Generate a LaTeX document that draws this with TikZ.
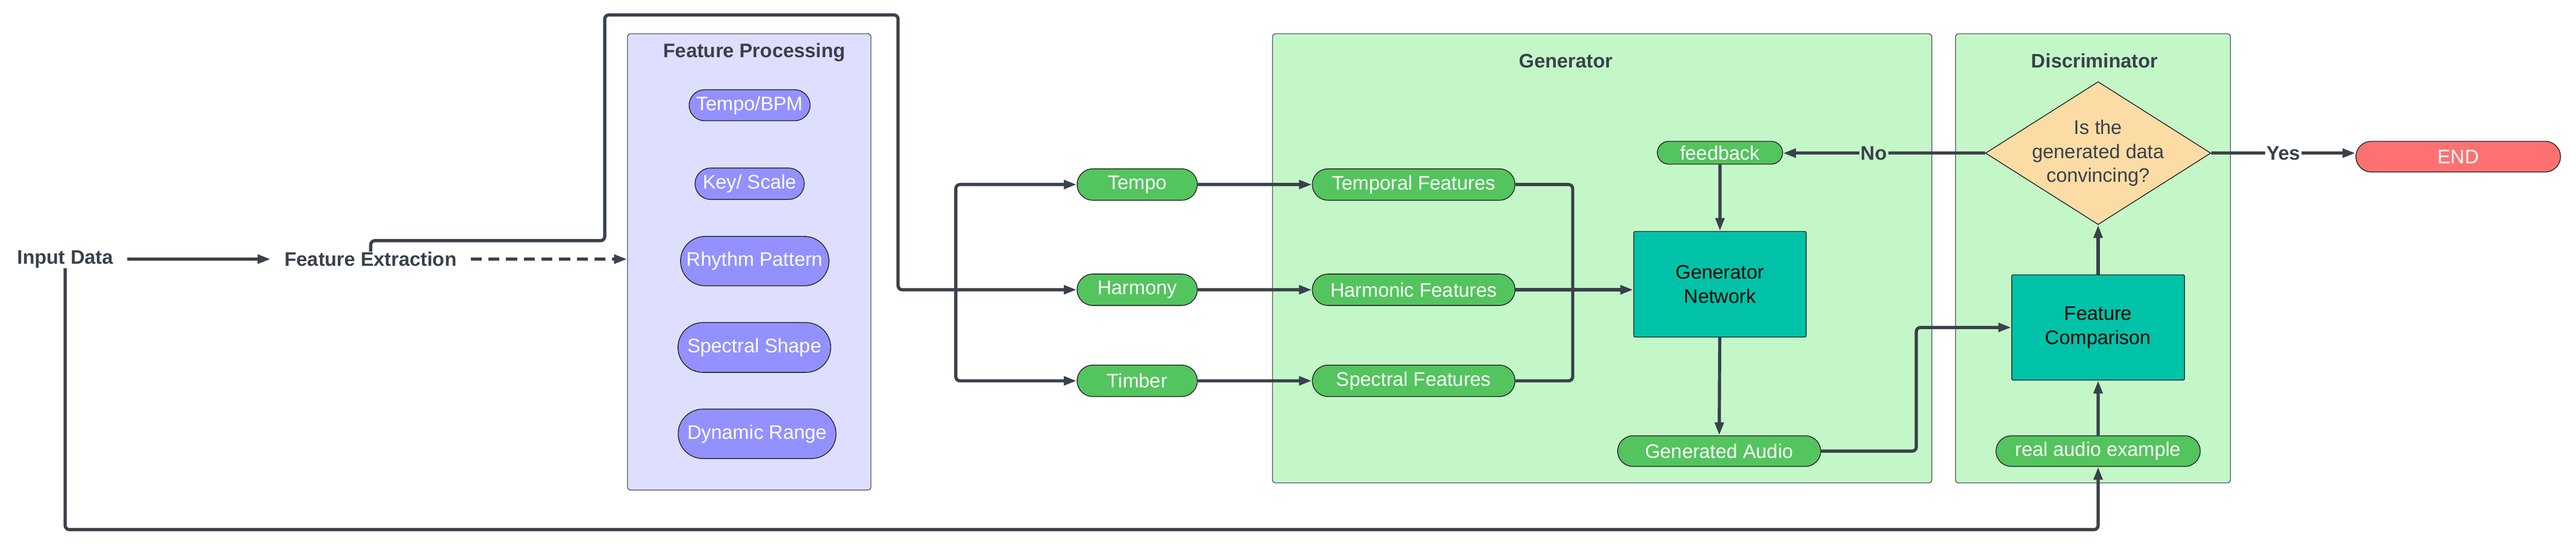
\documentclass[tikz,border=0pt]{standalone}
\usepackage{fontspec}
\setmainfont{Liberation Sans}
\usepackage{tikz}
\usetikzlibrary{arrows.meta}
\usetikzlibrary{shapes.geometric}
\usetikzlibrary{shapes.misc}
\usetikzlibrary{quotes}

\definecolor{linegray}{HTML}{3A414A}
\definecolor{fpfill}{HTML}{DEDEFF}
\definecolor{purplepill}{HTML}{9391FF}
\definecolor{genfill}{HTML}{C3F7C8}
\definecolor{greenpill}{HTML}{54C45E}
\definecolor{tealbox}{HTML}{00C2A8}
\definecolor{decidefill}{HTML}{FCDCA5}
\definecolor{endfill}{HTML}{FF7171}

\begin{document}
\begin{tikzpicture}[every node/.style={font=\fontsize{14.2}{17.5}\selectfont},
    every edge quotes/.style={font=\fontsize{14.2}{17.5}\selectfont\bfseries,text=linegray,inner sep=1pt},
    conn/.style={draw=linegray,line width=2.3pt,rounded corners=3pt},
    tip/.style={-{Triangle[length=0.33cm,width=0.22cm]}},
    plain/.style={text=linegray,font=\fontsize{14.2}{17.5}\selectfont\bfseries,inner xsep=0.35cm,inner ysep=0pt},
    group/.style={draw=linegray,line width=0.5pt,rounded corners=2pt},
    title/.style={text=linegray,font=\fontsize{14.2}{17.5}\selectfont\bfseries},
    pill/.style={rounded rectangle,draw=black!85,line width=0.6pt,text=white,inner sep=0pt,minimum height=0.8cm},
    block/.style={rectangle,draw=black!85,line width=0.6pt,fill=tealbox,align=center,rounded corners=1pt}]

    \useasboundingbox (0,0) rectangle (65.6,-13.9);

    % containers
    \node[group,fill=fpfill,minimum width=6.20cm,minimum height=11.62cm]  (fpbox) at (19.08,-6.67) {};
    \node[group,fill=genfill,minimum width=16.79cm,minimum height=11.44cm] (genbox) at (40.80,-6.58) {};
    \node[group,fill=genfill,minimum width=7.00cm,minimum height=11.44cm]  (discbox) at (53.30,-6.58) {};
    \node[title] (fptitle) at (19.21,-1.33) {Feature Processing};
    \node[title] (gentitle) at (39.88,-1.55) {Generator};
    \node[title] (disctitle) at (53.34,-1.55) {Discriminator};

    \node[plain] (input) at (1.66,-6.60) {Input Data};
    \node[plain] (extract) at (9.44,-6.60) {Feature Extraction};

    \node[pill,fill=purplepill,minimum width=3.08cm,minimum height=0.79cm] (bpm) at (19.09,-2.68) {Tempo/BPM};
    \node[pill,fill=purplepill,minimum width=2.78cm] (key) at (19.09,-4.68) {Key/ Scale};
    \node[pill,fill=purplepill,minimum width=3.78cm,minimum height=1.26cm] (rhythm) at (19.22,-6.65) {Rhythm Pattern};
    \node[pill,fill=purplepill,minimum width=3.89cm,minimum height=1.27cm] (shape) at (19.21,-8.85) {Spectral Shape};
    \node[pill,fill=purplepill,minimum width=4.02cm,minimum height=1.26cm] (range) at (19.28,-11.05) {Dynamic Range};

    \node[pill,fill=greenpill,minimum width=3.06cm] (tempo) at (28.96,-4.70) {Tempo};
    \node[pill,fill=greenpill,minimum width=3.06cm] (harmony) at (28.96,-7.38) {Harmony};
    \node[pill,fill=greenpill,minimum width=3.06cm] (timber) at (28.96,-9.70) {Timber};
    \node[pill,fill=greenpill,minimum width=5.16cm] (temporal) at (36.00,-4.70) {Temporal Features};
    \node[pill,fill=greenpill,minimum width=5.16cm] (harmonic) at (36.00,-7.38) {Harmonic Features};
    \node[pill,fill=greenpill,minimum width=5.16cm] (spectral) at (36.00,-9.70) {Spectral Features};

    \node[pill,fill=greenpill,minimum width=3.19cm,minimum height=0.58cm] (feedback) at (43.80,-3.89) {feedback};
    \node[block,minimum width=4.39cm,minimum height=2.69cm] (gennet) at (43.80,-7.24) {Generator\\Network};
    \node[pill,fill=greenpill,minimum width=5.17cm,minimum height=0.78cm] (genaudio) at (43.78,-11.49) {Generated Audio};

    \node[diamond,aspect=1.58,draw=black!85,line width=0.6pt,fill=decidefill,text=linegray,align=center,inner sep=-2pt,
          minimum width=5.74cm,minimum height=3.64cm] (decide) at (53.43,-3.90) {Is the\\generated data\\convincing?};
    \node[block,minimum width=4.40cm,minimum height=2.68cm] (compare) at (53.43,-8.34) {Feature\\Comparison};
    \node[pill,fill=greenpill,minimum width=5.20cm,minimum height=0.78cm] (real) at (53.43,-11.49) {real audio example};
    \node[pill,fill=endfill,minimum width=5.21cm,minimum height=0.78cm] (finish) at (62.60,-3.99) {END};

    \coordinate (rise) at (9.44,-6.13);
    \coordinate (top) at (15.40,-0.38);
    \coordinate (drop) at (22.87,-7.38);
    \coordinate (split) at (24.34,-7.38);
    \coordinate (merge) at (40.05,-7.38);
    \coordinate (jog) at (48.80,-8.34);
    \coordinate (low) at (53.43,-13.49);

    \draw[conn,tip] (input) -- (extract);
    \draw[conn,tip,dashed,dash pattern=on 0.28cm off 0.17cm] (extract.east) -- (extract.east -| fpbox.west);
    \draw[conn,tip] (extract.north) -- (rise) -| (top) -| (drop) -- (harmony.west);
    \draw[conn,tip] (split) |- (tempo.west);
    \draw[conn,tip] (split) |- (timber.west);
    \draw[conn,tip] (input.south) |- (low) -- (real.south);

    \draw[conn,tip] (tempo) -- (temporal);
    \draw[conn,tip] (harmony) -- (harmonic);
    \draw[conn,tip] (timber) -- (spectral);
    \draw[conn] (temporal.east) -| (merge);
    \draw[conn] (spectral.east) -| (merge);
    \draw[conn,tip] (harmonic.east) -- (harmonic.east -| gennet.west);

    \draw[conn,tip] (feedback) -- (gennet);
    \draw[conn,tip] (gennet) -- (genaudio);
    \draw[conn,tip] (genaudio.east) -| (jog) -- (compare.west);
    \draw[conn,tip] (real) -- (compare);
    \draw[conn,tip] (compare) -- (decide);
    \draw[conn] (decide.west) edge["No" {pos=0.55,fill=genfill},tip] (decide.west -| feedback.east);
    \draw[conn] (decide.east) edge["Yes" {fill=white},tip] (decide.east -| finish.west);
  \end{tikzpicture}
\end{document}
